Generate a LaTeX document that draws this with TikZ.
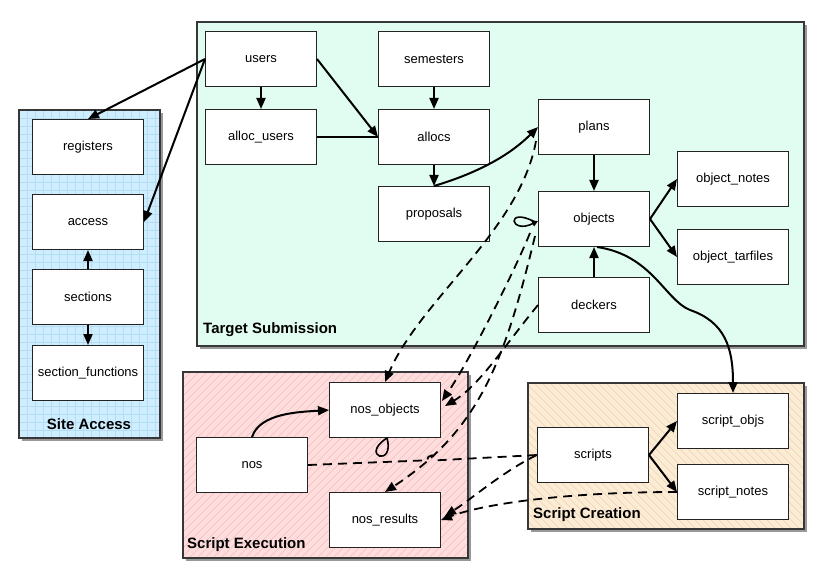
\documentclass[tikz,border=0pt]{standalone}
\usepackage{fontspec}
\setmainfont{Liberation Sans}
\usetikzlibrary{arrows.meta,shadows,calc}
\definecolor{boxline}{RGB}{35,35,35}
\definecolor{grpline}{RGB}{55,55,55}
\definecolor{sablue}{RGB}{206,238,255}
\definecolor{sagrid}{RGB}{180,221,242}
\definecolor{tsgreen}{RGB}{225,252,240}
\definecolor{sepink}{RGB}{255,221,221}
\definecolor{sehatch}{RGB}{238,192,192}
\definecolor{scbeige}{RGB}{253,236,212}
\definecolor{schatch}{RGB}{230,211,184}
\begin{document}
\begin{tikzpicture}[x=1pt,y=-1pt,
  box/.style={draw=boxline,fill=white,line width=1pt,minimum width=111pt,minimum height=55pt,inner sep=0pt,font=\fontsize{13}{15}\selectfont},
  grp/.style={line width=1.2pt,draw=grpline},
  shad/.style={drop shadow={shadow xshift=3pt,shadow yshift=-3pt,opacity=0.4,fill=black}},
  glabel/.style={font=\fontsize{15}{17}\selectfont\bfseries,inner sep=0pt},
  sol/.style={line width=2pt,-{Triangle[length=11pt,width=9pt]}},
  dsh/.style={line width=1.8pt,dash pattern=on 9pt off 6pt,-{Triangle[length=11pt,width=9pt]}},
  loopln/.style={line width=1.6pt}
]
\useasboundingbox (0,0) rectangle (830,580);
\fill[white] (0,0) rectangle (830,580);

% ---- groups ----
% Site Access
\fill[sablue,shad] (19,110) rectangle (160,438);
\foreach \gx in {27,35,...,155} \draw[sagrid,line width=0.5pt] (\gx,110) -- (\gx,438);
\foreach \gy in {118,126,...,434} \draw[sagrid,line width=0.5pt] (19,\gy) -- (160,\gy);
\draw[grp] (19,110) rectangle (160,438);
% Target Submission
\fill[tsgreen,shad] (197,22) rectangle (804,346);
\draw[grp] (197,22) rectangle (804,346);
% Script Execution
\fill[sepink,shad] (183,372) rectangle (468,558);
\begin{scope}
\clip (183,372) rectangle (468,558);
\foreach \hi in {0,...,60} \draw[sehatch,line width=0.6pt] ({-3+\hi*8},558) -- ++(190,-190);
\end{scope}
\draw[grp] (183,372) rectangle (468,558);
% Script Creation
\fill[scbeige,shad] (528,383) rectangle (804,529);
\begin{scope}
\clip (528,383) rectangle (804,529);
\foreach \hi in {0,...,54} \draw[schatch,line width=0.6pt] ({382+\hi*8},383) -- ++(150,150);
\end{scope}
\draw[grp] (528,383) rectangle (804,529);

\node[glabel] (lsa) at (89,424) {Site Access};
\node[glabel,anchor=west] (lts) at (203,330) {Target Submission};
\node[glabel,anchor=west] (lse) at (187,545) {Script Execution};
\node[glabel,anchor=west] (lsc) at (533,515) {Script Creation};

% ---- nodes ----
\node[box] (registers) at (88,147) {registers};
\node[box] (access) at (88,222) {access};
\node[box] (sections) at (88,297) {sections};
\node[box] (section_functions) at (88,373) {section\_functions};

\node[box] (users) at (261,59) {users};
\node[box] (semesters) at (434,59) {semesters};
\node[box] (alloc_users) at (261,137) {alloc\_users};
\node[box] (allocs) at (434,137) {allocs};
\node[box] (proposals) at (434,214) {proposals};
\node[box] (plans) at (594,127) {plans};
\node[box] (objects) at (594,219) {objects};
\node[box] (deckers) at (594,305) {deckers};
\node[box] (object_notes) at (733,179) {object\_notes};
\node[box] (object_tarfiles) at (733,257) {object\_tarfiles};

\node[box] (nos_objects) at (385,410) {nos\_objects};
\node[box] (nos) at (252,465) {nos};
\node[box] (nos_results) at (385,520) {nos\_results};

\node[box] (scripts) at (593,455) {scripts};
\node[box] (script_objs) at (733,421) {script\_objs};
\node[box] (script_notes) at (733,492) {script\_notes};

% ---- solid edges ----
\draw[sol] (sections) -- (access);
\draw[sol] (sections) -- (section_functions);
\draw[sol] (users.west) -- (registers.north);
\draw[sol] (users.west) -- (access.east);
\draw[sol] (users) -- (alloc_users);
\draw[sol] (users.east) -- (allocs.west);
\draw[line width=2pt] (alloc_users) -- (allocs);
\draw[sol] (semesters) -- (allocs);
\draw[sol] (allocs) -- (proposals);
\draw[sol] (proposals.north) .. controls +(50,-15) and +(-25,25) .. (plans.west);
\draw[sol] (plans) -- (objects);
\draw[sol] (objects.east) -- (object_notes.west);
\draw[sol] (objects.east) -- (object_tarfiles.west);
\draw[sol] (deckers) -- (objects);
\coordinate (sbend) at (690,310);
\draw[sol] ($(objects.south)+(3,0)$) .. controls +(55,8) and +(-25,-10) .. (sbend) .. controls +(35,12) and +(0,-45) .. (script_objs.north);
\draw[sol] (nos.north) .. controls +(8,-24) and +(-30,2) .. (nos_objects.west);
\draw[sol] (scripts.east) -- (script_objs.west);
\draw[sol] (scripts.east) -- (script_notes.west);

% ---- dashed edges ----
\draw[dsh] ($(plans.west)+(-2,14)$) .. controls (520,230) and (420,300) .. (nos_objects.north);
\draw[dsh] ($(objects.west)+(-8,14)$) .. controls (515,270) and (470,360) .. ($(nos_objects.east)+(1,-9)$);
\draw[dsh] (deckers.west) .. controls (505,345) and (480,385) .. ($(nos_objects.east)+(4,-4)$);
\draw[dsh] ($(objects.west)+(-3,17)$) .. controls (505,360) and (480,430) .. (nos_results.north);
\draw[line width=1.8pt,dash pattern=on 9pt off 6pt] (nos.east) -- (427,460.3) arc[start angle=180,end angle=360,radius=5] -- (scripts.west);
\draw[dsh] (scripts.west) .. controls (505,470) and (470,500) .. ($(nos_results.east)+(4,-4)$);
\draw[dsh] (script_notes.west) .. controls (560,492) and (480,505) .. (nos_results.east);

% ---- loop artifacts ----
\draw[loopln,-{Triangle[length=6pt,width=6pt]}] ($(objects.west)+(-3,3)$) .. controls +(-30,-16) and +(-28,14) .. ($(objects.west)+(0,2)$);
\draw[loopln] ($(nos_objects.south)+(2,0)$) .. controls +(-28,18) and +(8,30) .. ($(nos_objects.south)+(2,0)$);
\end{tikzpicture}
\end{document}
